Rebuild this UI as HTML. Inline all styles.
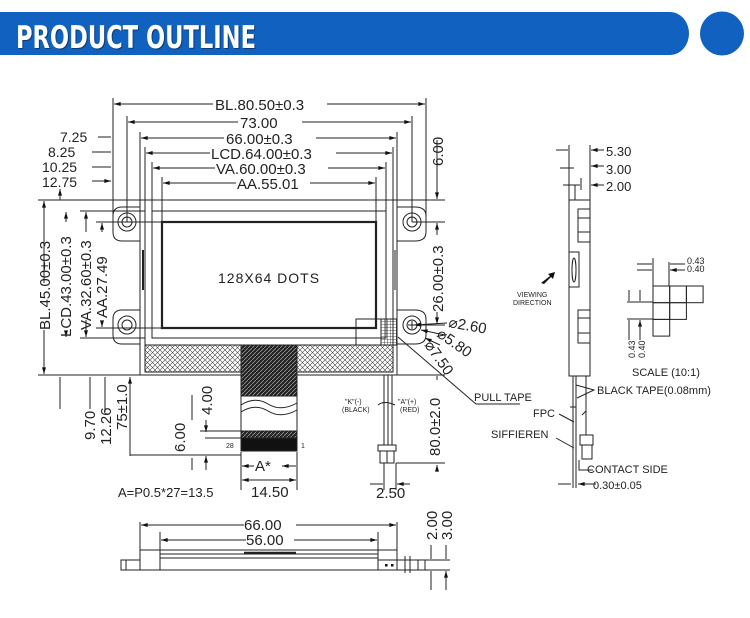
<!DOCTYPE html>
<html><head><meta charset="utf-8"><style>
html,body{margin:0;padding:0;background:#fff;width:750px;height:618px;overflow:hidden}
svg{display:block}
text{font-family:"Liberation Sans",sans-serif;fill:#222}
.d{font-size:15px}
.s{font-size:11px}
.t{font-size:7px}
</style></head><body>
<svg width="750" height="618" viewBox="0 0 750 618" xmlns="http://www.w3.org/2000/svg">
<defs>
<pattern id="xh" width="5" height="5" patternUnits="userSpaceOnUse"><path d="M0 0L5 5M5 0L0 5" stroke="#444" stroke-width="0.6"/></pattern>
<pattern id="dh" width="4" height="4" patternUnits="userSpaceOnUse"><rect width="4" height="4" fill="#222"/><path d="M0 4L4 0" stroke="#aaa" stroke-width="0.7"/></pattern>
<pattern id="gr" width="3" height="3" patternUnits="userSpaceOnUse"><path d="M0 0H3M0 0V3" stroke="#222" stroke-width="0.8"/></pattern>
<marker id="a" viewBox="0 0 10 6" refX="10" refY="3" markerWidth="9" markerHeight="4" orient="auto-start-reverse"><path d="M0 0L10 3L0 6z" fill="#111"/></marker>
</defs>
<!-- header -->
<path d="M0 12H670A19 21.5 0 0 1 670 55H0z" fill="#1061c0"/>
<ellipse cx="722" cy="33.5" rx="22" ry="22" fill="#1061c0"/>
<text x="17" y="49" style="font-family:'DejaVu Sans Condensed','Liberation Sans Narrow',sans-serif;font-weight:bold;font-size:31px;fill:#0a3b75" textLength="240" lengthAdjust="spacingAndGlyphs">PRODUCT OUTLINE</text>
<text x="16" y="48" style="font-family:'DejaVu Sans Condensed','Liberation Sans Narrow',sans-serif;font-weight:bold;font-size:31px;fill:#fff" textLength="240" lengthAdjust="spacingAndGlyphs">PRODUCT OUTLINE</text>

<g stroke="#222" stroke-width="1" fill="none">
<path d="M113 98V225M426 98V225M127 116V222M412 116V222M140 132V200M397 132V200M145 147V215M393 147V215M152 162V215M386 162V215M162 177V228M376 177V228"/>
<path d="M114 104H213M327 104H425" marker-start="url(#a)" marker-end="url(#a)"/>
<path d="M128 122H238M302 122H411" marker-start="url(#a)" marker-end="url(#a)"/>
<path d="M141 138H224M316 138H396" marker-start="url(#a)" marker-end="url(#a)"/>
<path d="M146 153H210M336 153H392" marker-start="url(#a)" marker-end="url(#a)"/>
<path d="M153 168H215M328 168H385" marker-start="url(#a)" marker-end="url(#a)"/>
<path d="M163 183H236M310 183H375" marker-start="url(#a)" marker-end="url(#a)"/>
<path d="M98 137H111M92 152H111M92 167H111M92 181H111" marker-end="url(#a)"/>
<path d="M60 200V189" marker-end="url(#a)"/>
<path d="M38 200H425M80 211H145M80 338H145M38 375H425M96 222H162M96 328H162M412 222H445M412 325H445M416 200H445"/>
<path d="M44 201V283M44 330V374" marker-start="url(#a)" marker-end="url(#a)"/>
<path d="M66 212V222M66 333V337" marker-start="url(#a)" marker-end="url(#a)"/>
<path d="M86 212V232M86 320V337" marker-start="url(#a)" marker-end="url(#a)"/>
<path d="M102 223V232M102 322V327" marker-start="url(#a)" marker-end="url(#a)"/>
<path d="M437 140V199" marker-end="url(#a)"/>
<path d="M437 223V235M437 312V324" marker-start="url(#a)" marker-end="url(#a)"/>
<rect x="140" y="200" width="257" height="175"/>
<path d="M145 200V345H393V200"/>
<rect x="152" y="211" width="234" height="127"/>
<rect x="162" y="222" width="214" height="106" stroke-width="2.2"/>
<rect x="145" y="345" width="248" height="27" fill="url(#xh)"/>
<rect x="381" y="319" width="16" height="26" fill="url(#gr)"/>
<rect x="356" y="319" width="25" height="26"/>
<path d="M143 250V290" stroke-width="2"/>
<path d="M395 250V290"/>
<path d="M140 207H122Q113 207 113 216V232Q113 241 122 241H140"/>
<path d="M140 310H122Q113 310 113 319V335Q113 344 122 344H140"/>
<path d="M397 207H415Q426 207 426 216V232Q426 241 415 241H397"/>
<path d="M397 310H415Q426 310 426 319V335Q426 344 415 344H397"/>
<circle cx="127" cy="222" r="9"/><circle cx="127" cy="222" r="5"/>
<circle cx="127" cy="325" r="9"/><circle cx="127" cy="325" r="5"/>
<circle cx="412" cy="222" r="9"/><circle cx="412" cy="222" r="5"/>
<circle cx="412" cy="325" r="9"/><circle cx="412" cy="325" r="5"/>
<path d="M408 325H416M412 321V329"/>
<path d="M447 323L414 325" marker-end="url(#a)"/>
<path d="M445 335L421 330" marker-end="url(#a)"/>
<path d="M440 345L425 338" marker-end="url(#a)"/>
<path d="M398 337L476 404H520"/>
<rect x="241" y="345" width="56" height="51" fill="url(#dh)"/>
<path d="M241 345V451M297 345V451"/>
<path d="M241 405Q255 396 268 404T297 403M241 412Q255 403 268 411T297 410"/>
<rect x="241" y="431" width="56" height="7" fill="url(#dh)"/>
<rect x="241" y="438" width="56" height="13" fill="#111"/>
<path d="M38 375H130M60 409V377M90 409V377M105 412V377M130 456V377" marker-end="url(#a)"/>
<path d="M130 455H241M200 431H241M205 438H241"/>
<path d="M192 395V420M206 420V432" marker-end="url(#a)"/>
<path d="M192 470V458M206 470V456" marker-end="url(#a)"/>
<path d="M241 452V490M297 452V490"/>
<path d="M242 466H254M296 466H282" marker-end="url(#a)"/>
<path d="M242 466H254" marker-start="url(#a)"/>
<path d="M242 480H296" marker-start="url(#a)" marker-end="url(#a)"/>
<path d="M384 375V445M388 375V445M392 375V445"/>
<path d="M378 405Q384 400 395 405"/>
<rect x="378" y="445" width="18" height="6"/>
<rect x="380" y="451" width="14" height="12"/>
<path d="M387 451V463"/>
<path d="M384 463V490M396 463V490M396 463H445"/>
<path d="M370 484H383M410 484H397" marker-end="url(#a)"/>
<path d="M437 380V376M437 470V465" marker-end="url(#a)"/>
<path d="M425 375H445"/>
<rect x="569" y="200" width="21" height="176"/>
<path d="M575 200V185M581 190V178M590 200V145M569 200V145"/>
<path d="M556 150H568M604 150H591" marker-end="url(#a)"/>
<path d="M560 168H574M604 166H591" marker-end="url(#a)"/>
<path d="M563 185H580M604 185H591" marker-end="url(#a)"/>
<rect x="578" y="209" width="12" height="33"/><path d="M578 218H590M578 232H590"/>
<rect x="569" y="252" width="10" height="35"/><ellipse cx="574" cy="270" rx="2" ry="12"/>
<rect x="578" y="310" width="12" height="33"/><path d="M578 318H590M578 333H590"/>
<path d="M573 376V488M576 376V488M586 376V435"/>
<rect x="580" y="435" width="13" height="10"/><rect x="582" y="445" width="10" height="14"/>
<path d="M576 385L594 390L577 398"/>
<path d="M558 484H571M596 484H578" marker-end="url(#a)"/>
<path d="M559 414L574 422M556 438L574 448M593 470H579V460"/>
<path d="M570 407h6M582 415l4 -4"/>
<!-- pixel grid -->
<rect x="653" y="286" width="16.7" height="16.7"/><rect x="669.7" y="286" width="16.7" height="16.7"/><rect x="686.4" y="286" width="16.7" height="16.7"/>
<rect x="653" y="302.7" width="16.7" height="16.7"/><rect x="669.7" y="302.7" width="16.7" height="16.7"/>
<rect x="653" y="319.4" width="16.7" height="16.7"/>
<path d="M653 258V286M669 262V286M627 302H653M627 319H653"/>
<path d="M637 264H652M685 264H670M637 270H652M685 270H670" marker-end="url(#a)"/>
<path d="M629 290V301M640 290V301M629 330V320M640 330V320" marker-end="url(#a)"/>
<path d="M629 320V340M640 320V340"/>
<!-- bottom view -->
<rect x="140" y="550" width="257" height="20"/>
<path d="M160 550V570M378 550V570M160 554H378M160 558H378"/>
<path d="M244 553H296" stroke-width="2.5"/>
<rect x="121" y="560" width="19" height="10"/><path d="M126 560V570"/>
<rect x="378" y="560" width="19" height="10"/>
<rect x="397" y="560" width="28" height="10"/><path d="M405 556V573M410 556V573M418 560V570"/>
<path d="M140 522V550M397 522V550M160 532V550M378 532V550"/>
<path d="M141 525H244M296 525H396" marker-start="url(#a)" marker-end="url(#a)"/>
<path d="M161 540H246M294 540H377" marker-start="url(#a)" marker-end="url(#a)"/>
<path d="M425 560H450M425 570H450"/>
<path d="M431 545V559M446 545V559M431 590V571M446 590V571" marker-end="url(#a)"/>
</g>
<rect x="385" y="564" width="2.5" height="2.5" fill="#111"/><rect x="391" y="564" width="2.5" height="2.5" fill="#111"/>
<path d="M541 283l9 -7l-2 -2l7 -2l-2 7l-2 -2l-7 7z" fill="#111"/>

<g class="d">
<text x="215" y="110">BL.80.50±0.3</text>
<text x="240" y="128">73.00</text>
<text x="226" y="144">66.00±0.3</text>
<text x="211" y="159">LCD.64.00±0.3</text>
<text x="216" y="174">VA.60.00±0.3</text>
<text x="237" y="189">AA.55.01</text>
<text x="60" y="142" font-size="14">7.25</text>
<text x="48" y="157" font-size="14">8.25</text>
<text x="42" y="172" font-size="14">10.25</text>
<text x="42" y="187" font-size="14">12.75</text>
<text transform="translate(50,330) rotate(-90)">BL.45.00±0.3</text>
<text transform="translate(71,337) rotate(-90)">LCD.43.00±0.3</text>
<text transform="translate(91,330) rotate(-90)">VA.32.60±0.3</text>
<text transform="translate(107,318) rotate(-90)">AA.27.49</text>
<text transform="translate(443,166) rotate(-90)">6.00</text>
<text transform="translate(443,312) rotate(-90)">26.00±0.3</text>
<text transform="translate(448,327) rotate(10)">⌀2.60</text>
<text transform="translate(436,336) rotate(35)">⌀5.80</text>
<text transform="translate(424,345) rotate(55)">⌀7.50</text>
<text x="218" y="283" font-size="14" style="letter-spacing:1px">128X64 DOTS</text>
<text transform="translate(95,440) rotate(-90)">9.70</text>
<text transform="translate(111,445) rotate(-90)">12.26</text>
<text transform="translate(127,430) rotate(-90)">75±1.0</text>
<text transform="translate(212,415) rotate(-90)">4.00</text>
<text transform="translate(185,452) rotate(-90)">6.00</text>
<text x="255" y="471">A*</text>
<text x="251" y="497">14.50</text>
<text x="118" y="497" font-size="13">A=P0.5*27=13.5</text>
<text transform="translate(440,456) rotate(-90)">80.0±2.0</text>
<text x="376" y="498">2.50</text>
<text x="244" y="530">66.00</text>
<text x="246" y="545">56.00</text>
<text transform="translate(437,540) rotate(-90)">2.00</text>
<text transform="translate(452,540) rotate(-90)">3.00</text>
<text x="606" y="156" font-size="13">5.30</text>
<text x="606" y="174" font-size="13">3.00</text>
<text x="606" y="191" font-size="13">2.00</text>
</g>
<g class="s">
<text x="474" y="401">PULL TAPE</text>
<text x="597" y="394">BLACK TAPE(0.08mm)</text>
<text x="533" y="417">FPC</text>
<text x="491" y="438">SIFFIEREN</text>
<text x="587" y="473">CONTACT SIDE</text>
<text x="593" y="489">0.30±0.05</text>
<text x="632" y="376">SCALE (10:1)</text>
</g>
<g class="t">
<text x="226" y="448">28</text><text x="301" y="448">1</text>
<text x="345" y="404">"K"(-)</text><text x="342" y="412">(BLACK)</text>
<text x="398" y="404">"A"(+)</text><text x="400" y="412">(RED)</text>
<text x="517" y="297">VIEWING</text><text x="513" y="305">DIRECTION</text>
<text x="687" y="264" font-size="9">0.43</text><text x="687" y="272" font-size="9">0.40</text>
<text transform="translate(635,358) rotate(-90)" font-size="9">0.43</text>
<text transform="translate(645,358) rotate(-90)" font-size="9">0.40</text>
</g>
</svg>
</body></html>
